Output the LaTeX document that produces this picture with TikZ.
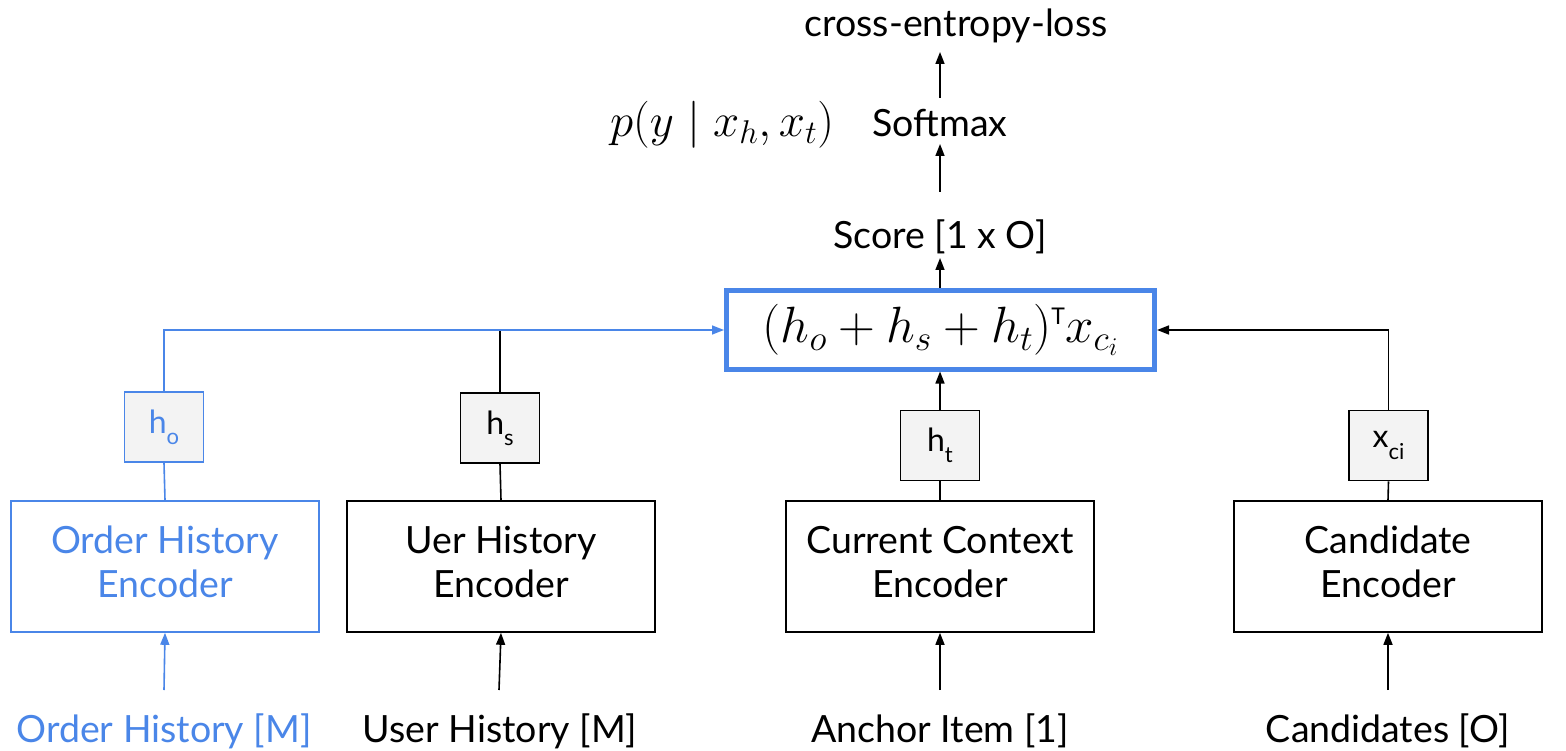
\RequirePackage{fix-cm}
\documentclass[tikz,border=0pt]{standalone}
\usepackage{fontspec}
\setmainfont{Lato}
\usetikzlibrary{arrows.meta}
\definecolor{gblue}{HTML}{4A86E8}
\definecolor{boxgray}{HTML}{F3F3F3}
\newcommand{\twolines}[2]{\raisebox{4pt}{\begin{tabular}{@{}c@{}}#1\\#2\end{tabular}}}

\begin{document}
\begin{tikzpicture}[x=1pt,y=-1pt,
  lbl/.style={font=\fontsize{37.5}{44}\selectfont, inner sep=0pt, anchor=base},
  encoder/.style={draw, line width=1.6pt, minimum width=308pt, minimum height=131pt,
    font=\fontsize{37.5}{44}\selectfont, inner sep=0pt},
  vecbox/.style={draw, fill=boxgray, line width=1.6pt, minimum width=79pt, minimum height=70pt,
    inner sep=0pt, font=\fontsize{32}{38}\selectfont},
  conn/.style={line width=1.6pt},
  arr/.style={line width=1.6pt, -{Triangle[length=12pt,width=9pt]}},
]
\useasboundingbox (0,0) rectangle (1566,751);

% scoring node
\node[draw=gblue, line width=5pt, minimum width=428pt, minimum height=78pt, inner sep=0pt,
      font=\fontsize{51}{60}\selectfont] (score) at (940.5,330)
  {$(h_o+h_s+h_t)^{\hbox{\fontsize{23}{26}\selectfont T}}x_{c_i}$};

% output chain
\node[lbl] (scoretxt) at (940,249) {Score [1 x O]};
\node[lbl] (softmax) at (940,137) {Softmax};
\node[lbl] (loss) at (956,37) {cross-entropy-loss};
\node[inner sep=0pt, font=\fontsize{47}{56}\selectfont] (prob) at (722,125) {$p(y\mid x_h,x_t)$};

\coordinate (s0) at (940,288);
\coordinate (s1) at (940,258);
\coordinate (m0) at (940,192);
\coordinate (m1) at (940,144);
\coordinate (l0) at (940,98);
\coordinate (l1) at (940,52);
\draw[arr] (s0) -- (s1);
\draw[arr] (m0) -- (m1);
\draw[arr] (l0) -- (l1);

% encoders
\node[encoder, draw=gblue, text=gblue] (oenc) at (165,566.5) {\twolines{Order History}{Encoder}};
\node[encoder] (uenc) at (501,566.5) {\twolines{Uer History}{Encoder}};
\node[encoder] (cenc) at (940,566.5) {\twolines{Current Context}{Encoder}};
\node[encoder] (denc) at (1388,566.5) {\twolines{Candidate}{Encoder}};

% encoder outputs
\node[vecbox, draw=gblue, text=gblue] (ho) at (164,427) {h\raisebox{-0.35em}{\fontsize{22}{26}\selectfont o}};
\node[vecbox] (hs) at (500,428) {h\raisebox{-0.35em}{\fontsize{22}{26}\selectfont s}};
\node[vecbox] (ht) at (940,445.5) {h\raisebox{-0.35em}{\fontsize{22}{26}\selectfont t}};
\node[vecbox] (xc) at (1388.5,445.5) {x\raisebox{-0.35em}{\fontsize{22}{26}\selectfont ci}};

\draw[conn, gblue] (oenc.north) -- (ho.south);
\draw[conn] (uenc.north) -- (hs.south);
\draw[conn] (cenc.north) -- (ht.south);
\draw[conn] (denc.north) -- (xc.south);

% links into the scoring node
\draw[conn] (hs.north) -- (hs.north |- score.west);
\draw[arr, gblue] (ho.north) |- (score.west);
\draw[arr] (ht.north) -- (score.south -| ht.north);
\draw[arr] (xc.north) |- (score.east);

% inputs
\node[lbl, text=gblue] (oin) at (164,742) {Order History [M]};
\node[lbl] (uin) at (500,742) {User History [M]};
\node[lbl] (ain) at (940,742) {Anchor Item [1]};
\node[lbl] (cin) at (1388,742) {Candidates [O]};

\coordinate (o0) at (164,690);
\coordinate (u0) at (499,690);
\coordinate (a0) at (940,690);
\coordinate (c0) at (1388,690);
\draw[arr, gblue] (o0) -- (oenc.south);
\draw[arr] (u0) -- (uenc.south);
\draw[arr] (a0) -- (cenc.south);
\draw[arr] (c0) -- (denc.south);
\end{tikzpicture}
\end{document}
